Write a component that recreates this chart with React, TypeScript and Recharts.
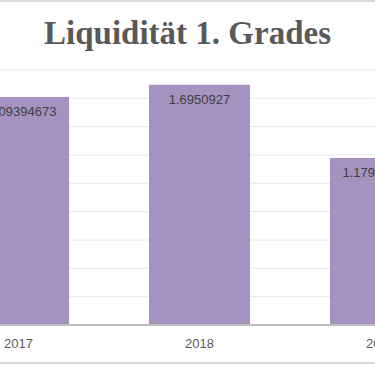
import { BarChart, Bar, XAxis, YAxis, CartesianGrid, LabelList } from "recharts";

// Liquidität 1. Grades per year
const years = ["2017", "2018", "2019"];
const liquidity = [1.609394673, 1.6950927, 1.179245283];
const yTicks = [0, 0.2, 0.4, 0.6, 0.8, 1, 1.2, 1.4, 1.6, 1.8];

const data = years.map((year, i) => ({ year, value: liquidity[i] }));

const barColor = "#a592c0";
const textColor = "#595959";

export default function App() {
  return (
    <div
      style={{
        position: "absolute",
        left: 0,
        top: 0,
        width: 375,
        height: 366,
        overflow: "hidden",
        background: "#ffffff",
      }}
    >
      <div
        style={{
          position: "absolute",
          left: 0,
          top: 0,
          width: 375,
          height: 364,
          borderTop: "2px solid #d9d9d9",
          borderBottom: "2px solid #d9d9d9",
          boxSizing: "border-box",
        }}
      />
      <div
        style={{
          position: "absolute",
          left: 0,
          top: 14,
          width: 375,
          textAlign: "center",
          fontFamily: "'Liberation Serif', serif",
          fontWeight: "bold",
          fontSize: 33,
          lineHeight: "38px",
          color: textColor,
        }}
      >
        Liquidität 1. Grades
      </div>
      <div style={{ position: "absolute", left: -72, top: 0 }}>
        <BarChart
          width={543}
          height={366}
          data={data}
          margin={{ top: 70, right: 0, bottom: 0, left: 0 }}
          barCategoryGap={40}
        >
          <CartesianGrid vertical={false} stroke="#e8e8e8" strokeWidth={1} />
          <YAxis hide domain={[0, 1.8]} ticks={yTicks} />
          <XAxis
            dataKey="year"
            height={41}
            tickLine={false}
            axisLine={{ stroke: "#bfbfbf", strokeWidth: 2 }}
            tickMargin={8}
            tick={{ fill: textColor, fontSize: 13, fontFamily: "'Liberation Sans', sans-serif" }}
          />
          <Bar dataKey="value" fill={barColor} isAnimationActive={false}>
            <LabelList
              dataKey="value"
              position="insideTop"
              offset={10}
              fill="#404040"
              fontSize={13}
              fontFamily="'Liberation Sans', sans-serif"
            />
          </Bar>
        </BarChart>
      </div>
    </div>
  );
}
